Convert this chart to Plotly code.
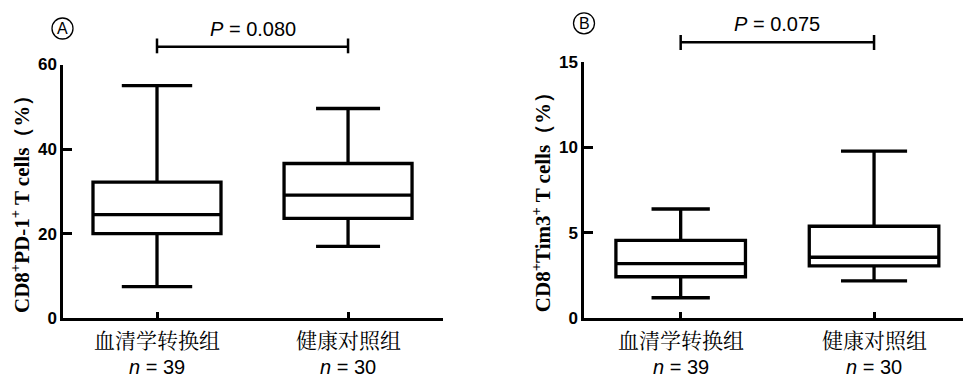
import plotly.graph_objects as go

# ---------------- data ----------------
groups = ["血清学转换组", "健康对照组"]
n_labels = ["<i>n</i> = 39", "<i>n</i> = 30"]
p_values = ["0.080", "0.075"]

pd1_q1 = [20.0, 23.6]
pd1_median = [24.5, 29.1]
pd1_q3 = [32.2, 36.6]
pd1_low = [7.5, 17.0]
pd1_high = [55.0, 49.6]

tim3_q1 = [2.43, 3.07]
tim3_median = [3.2, 3.57]
tim3_q3 = [4.55, 5.38]
tim3_low = [1.2, 2.19]
tim3_high = [6.39, 9.77]

pd1_ticks = [0, 20, 40, 60]
tim3_ticks = [0, 5, 10, 15]

# ---------------- styles ----------------
W, H = 963, 378
whisker_pd1 = [0.55, 0.5]
whisker_tim3 = [0.45, 0.51]
box_w = 0.67


def px(x):
    return x / W


def py(y):
    return 1 - y / H


fig = go.Figure()

panels = [
    ("x", "y", pd1_q1, pd1_median, pd1_q3, pd1_low, pd1_high, whisker_pd1),
    ("x2", "y2", tim3_q1, tim3_median, tim3_q3, tim3_low, tim3_high, whisker_tim3),
]
for xa, ya, q1, med, q3, lo, hi, ww in panels:
    for i in range(len(groups)):
        fig.add_trace(go.Box(
            x=[i], q1=[q1[i]], median=[med[i]], q3=[q3[i]],
            lowerfence=[lo[i]], upperfence=[hi[i]],
            orientation="v", width=box_w, whiskerwidth=ww[i],
            line=dict(color="black", width=3.3), fillcolor="white",
            boxpoints=False, showlegend=False, hoverinfo="skip",
            xaxis=xa, yaxis=ya,
        ))

axis_common = dict(showline=True, linecolor="black", linewidth=2.5,
                   showgrid=False, zeroline=False, ticks="inside",
                   tickcolor="black", tickwidth=2.5, fixedrange=True,
                   automargin=False)
tickfont = dict(family="Liberation Sans, Arial", size=17, color="black", weight="bold")

fig.update_layout(
    template="none",
    width=W, height=H,
    margin=dict(l=0, r=0, t=0, b=0, pad=0),
    paper_bgcolor="white", plot_bgcolor="white",
    boxmode="overlay",
    xaxis=dict(domain=[px(63), px(443)], range=[-0.492, 1.497], anchor="y",
               tickvals=[0, 1], showticklabels=False, ticklen=7, **axis_common),
    yaxis=dict(domain=[py(318.3), py(64.5)], range=[0, 60], anchor="x",
               tickvals=pd1_ticks, ticklen=9, tickfont=tickfont, **axis_common),
    xaxis2=dict(domain=[px(584), 1.0], range=[-0.5, 1.46], anchor="y2",
                tickvals=[0, 1], showticklabels=False, ticklen=7, **axis_common),
    yaxis2=dict(domain=[py(318.3), py(61.7)], range=[0, 15], anchor="x2",
                tickvals=tim3_ticks, ticklen=9, tickfont=tickfont, **axis_common),
)

ann = []
shapes = []
cjk = dict(family="Noto Serif CJK SC, Noto Sans CJK SC", size=21, color="black")
sans20 = dict(family="Liberation Sans, Arial", size=20, color="black")

for xa in ["x", "x2"]:
    for i in range(len(groups)):
        ann.append(dict(xref=xa, yref="paper", x=i, y=py(339), text=groups[i],
                        showarrow=False, font=cjk, xanchor="center", yanchor="middle"))
        ann.append(dict(xref=xa, yref="paper", x=i, y=py(367), text=n_labels[i],
                        showarrow=False, font=sans20, xanchor="center", yanchor="middle"))

# P-value brackets
brk = [("x", 46.7, 38.5, 53.3, 29.0, p_values[0]), ("x2", 42.3, 35.0, 50.0, 23.5, p_values[1])]
for xa, yb, yt0, yt1, yp, pv in brk:
    shapes.append(dict(type="line", xref=xa, yref="paper", x0=0, x1=1, y0=py(yb), y1=py(yb),
                       line=dict(color="black", width=2.5)))
    for xx in [0, 1]:
        shapes.append(dict(type="line", xref=xa, yref="paper", x0=xx, x1=xx, y0=py(yt0), y1=py(yt1),
                           line=dict(color="black", width=2.5)))
    ann.append(dict(xref=xa, yref="paper", x=0.5, y=py(yp), text="<i>P</i> = " + pv,
                    showarrow=False, font=sans20, xanchor="center", yanchor="middle"))

# panel letters
for cx, cy, letter in [(62.5, 28.5, "A"), (584, 23.3, "B")]:
    r = 10.5
    shapes.append(dict(type="circle", xref="paper", yref="paper",
                       x0=px(cx - r), x1=px(cx + r), y0=py(cy + r), y1=py(cy - r),
                       line=dict(color="black", width=1.3)))
    ann.append(dict(xref="paper", yref="paper", x=px(cx), y=py(cy), text=letter,
                    showarrow=False, font=dict(family="Liberation Sans, Arial", size=16, color="black"),
                    xanchor="center", yanchor="middle"))

# y-axis titles
ytitle_font = dict(family="Liberation Serif, Times New Roman", size=21, color="black")
ann.append(dict(xref="paper", yref="paper", x=px(20.5), y=py(199.5),
                text="<b>CD8<sup>+</sup>PD-1<sup>+</sup> T cells（%）</b>", textangle=-90,
                showarrow=False, font=ytitle_font, xanchor="center", yanchor="middle"))
ann.append(dict(xref="paper", yref="paper", x=px(541.7), y=py(197.5),
                text="<b>CD8<sup>+</sup>Tim3<sup>+</sup> T cells（%）</b>", textangle=-90,
                showarrow=False, font=ytitle_font, xanchor="center", yanchor="middle"))

fig.update_layout(annotations=ann, shapes=shapes)
fig.write_html("out.html", config={"displayModeBar": False},
               post_script="document.body.style.margin='0';")
